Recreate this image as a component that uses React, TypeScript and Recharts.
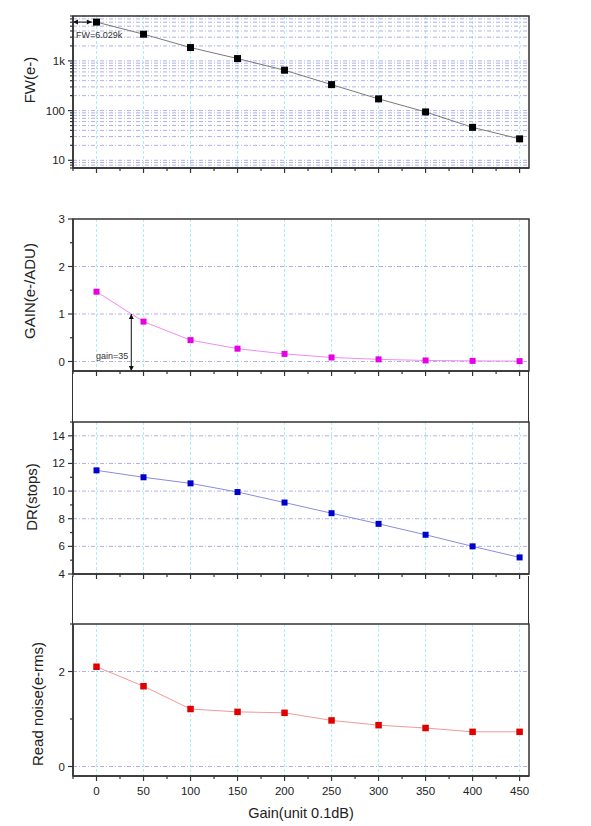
import React from 'react';
import {
  LineChart,
  Line,
  XAxis,
  YAxis,
  CartesianGrid,
  ReferenceLine,
  ReferenceArea,
} from 'recharts';

// ---------- data ----------
const gainSteps = [0, 50, 100, 150, 200, 250, 300, 350, 400, 450];
const fullWell = [6029, 3443, 1854, 1113, 650, 333, 172, 94, 46, 27];
const adcGain = [1.47, 0.84, 0.45, 0.27, 0.16, 0.085, 0.045, 0.022, 0.013, 0.008];
const dynamicRange = [11.5, 11.0, 10.56, 9.93, 9.17, 8.4, 7.63, 6.84, 6.0, 5.2];
const readNoise = [2.1, 1.69, 1.21, 1.15, 1.13, 0.97, 0.87, 0.81, 0.73, 0.73];

const xTicks = [-25, 0, 25, 50, 75, 100, 125, 150, 175, 200, 225, 250, 275, 300, 325, 350, 375, 400, 425, 450];
const xMajor = [0, 50, 100, 150, 200, 250, 300, 350, 400, 450];

const fwTicks = [7, 8, 9, 10, 20, 30, 40, 50, 60, 70, 80, 90, 100, 200, 300, 400, 500, 600, 700, 800, 900, 1000, 2000, 3000, 4000, 5000, 6000, 7000, 8000];
const fwMajor = [10, 100, 1000];
const fwTickLabels: Record<number, string> = { 10: '10', 100: '100', 1000: '1k' };

const gainTicks = [0, 0.5, 1, 1.5, 2, 2.5, 3];
const gainMajor = [0, 1, 2, 3];
const gainGrid = [0, 1, 2];

const drTicks = [4, 5, 6, 7, 8, 9, 10, 11, 12, 13, 14, 15];
const drMajor = [4, 6, 8, 10, 12, 14];
const drGrid = [6, 8, 10, 12, 14];

const rnTicks = [0, 1, 2, 3];
const rnMajor = [0, 2];
const rnGrid = [0, 2];

const fwAnnotationLabel = 'FW=6.029k';
const gainAnnotationLabel = 'gain=35';
const gainAnnotationX = 37;

const rows = gainSteps.map((g, i) => ({
  g,
  fw: fullWell[i],
  gain: adcGain[i],
  dr: dynamicRange[i],
  rn: readNoise[i],
}));

// ---------- styles ----------
const FONT = '"Liberation Sans", Arial, Helvetica, sans-serif';
const AXIS = '#333';
const VGRID = '#b0ecf4';
const HGRID = '#b0b0ea';

const XTick = (props: any) => {
  const { x, y, payload, showLabels } = props;
  const v = payload.value;
  const major = xMajor.includes(v);
  return (
    <g>
      <line x1={x} y1={y} x2={x} y2={y + (major ? 5 : 3)} stroke={AXIS} strokeWidth={1.2} />
      {showLabels && major && (
        <text x={x} y={y + 19} textAnchor="middle" fontSize={11.5} fontFamily={FONT} fill="#222">
          {v}
        </text>
      )}
    </g>
  );
};

const YTick = (props: any) => {
  const { x, y, payload, major, fmt } = props;
  const v = payload.value;
  const isMajor = major.includes(v);
  return (
    <g>
      <line x1={x - (isMajor ? 5 : 3)} y1={y} x2={x} y2={y} stroke={AXIS} strokeWidth={1.2} />
      {isMajor && (
        <text x={x - 8} y={y + 4} textAnchor="end" fontSize={11.5} fontFamily={FONT} fill="#222">
          {fmt ? fmt(v) : v}
        </text>
      )}
    </g>
  );
};

const headPts = (x: number, y: number, dir: string, len = 5, half = 2.5) => {
  if (dir === 'l') return `${x},${y} ${x + len},${y - half} ${x + len},${y + half}`;
  if (dir === 'r') return `${x},${y} ${x - len},${y - half} ${x - len},${y + half}`;
  if (dir === 'u') return `${x},${y} ${x - half},${y + len} ${x + half},${y + len}`;
  return `${x},${y} ${x - half},${y - len} ${x + half},${y - len}`;
};

const FwArrow = (p: any) => {
  const { x1, y1, x2, y2 } = p;
  return (
    <g>
      <line x1={x1} y1={y1} x2={x2} y2={y2} stroke="#111" strokeWidth={1} />
      <polygon points={headPts(x1, y1, 'l')} fill="#111" />
      <polygon points={headPts(x2, y2, 'r')} fill="#111" />
      <text x={x1 + 3} y={y1 + 16} fontSize={9} fontFamily={FONT} fill="#333">
        {fwAnnotationLabel}
      </text>
    </g>
  );
};

const GainArrow = (p: any) => {
  const { x1, y1, x2, y2 } = p;
  const top = Math.min(y1, y2);
  const bot = Math.max(y1, y2);
  return (
    <g>
      <line x1={x1} y1={top} x2={x2} y2={bot} stroke="#111" strokeWidth={1} />
      <polygon points={headPts(x1, top, 'u')} fill="#111" />
      <polygon points={headPts(x1, bot, 'd')} fill="#111" />
      <text x={x1 - 3} y={bot - 12.5} textAnchor="end" fontSize={9} fontFamily={FONT} fill="#333">
        {gainAnnotationLabel}
      </text>
    </g>
  );
};

const squareDot = (color: string, size: number) => (props: any) => {
  const { cx, cy, index } = props;
  if (cx == null || cy == null) return <g key={`n-${index}`} />;
  return <rect key={`d-${index}`} x={cx - size / 2} y={cy - size / 2} width={size} height={size} fill={color} />;
};

type PanelProps = {
  top: number;
  xAxisHeight: number;
  showXLabels: boolean;
  dataKey: string;
  markerColor: string;
  lineColor: string;
  markerSize: number;
  yScale: 'linear' | 'log';
  yDomain: [number, number];
  yTicks: number[];
  yMajor: number[];
  yFmt?: (v: number) => string;
  yGrid: number[];
  yTitle: string;
  yTitleX: number;
  yTitleDy: number;
  children?: React.ReactNode;
};

const PLOT_H = 152;
const MARGIN_TOP = 10;

const Panel = (p: PanelProps) => {
  const h = MARGIN_TOP + PLOT_H + p.xAxisHeight;
  return (
    <div style={{ position: 'absolute', left: 0, top: p.top, width: 591, height: h }}>
      <LineChart width={591} height={h} data={rows} margin={{ top: MARGIN_TOP, right: 62, bottom: 0, left: 13 }}>
        <CartesianGrid horizontal={false} vertical verticalValues={xMajor} stroke={VGRID} strokeDasharray="3 2" />
        <CartesianGrid vertical={false} horizontal horizontalValues={p.yGrid} stroke={HGRID} strokeDasharray="4 2 1 2" />
        <XAxis
          dataKey="g"
          type="number"
          domain={[-25, 460]}
          ticks={xTicks}
          interval={0}
          allowDataOverflow
          tickLine={false}
          tickSize={0}
          tickMargin={0}
          height={p.xAxisHeight}
          axisLine={{ stroke: AXIS, strokeWidth: 1.5 }}
          tick={(tp: any) => <XTick {...tp} showLabels={p.showXLabels} />}
          label={
            p.showXLabels
              ? (lp: any) => {
                  const vb = lp.viewBox || {};
                  return (
                    <text
                      x={vb.x + vb.width / 2}
                      y={vb.y + 42}
                      textAnchor="middle"
                      fontSize={14.5}
                      fontFamily={FONT}
                      fill="#222"
                    >
                      Gain(unit 0.1dB)
                    </text>
                  );
                }
              : undefined
          }
        />
        <YAxis
          type="number"
          scale={p.yScale}
          domain={p.yDomain}
          ticks={p.yTicks}
          interval={0}
          allowDataOverflow
          width={60}
          tickLine={false}
          tickSize={0}
          tickMargin={0}
          axisLine={{ stroke: AXIS, strokeWidth: 1.5 }}
          tick={(tp: any) => <YTick {...tp} major={p.yMajor} fmt={p.yFmt} />}
          label={(lp: any) => {
            const vb = lp.viewBox || {};
            const cx = p.yTitleX;
            const cy = vb.y + vb.height / 2 + p.yTitleDy;
            return (
              <text
                x={cx}
                y={cy}
                transform={`rotate(-90, ${cx}, ${cy})`}
                textAnchor="middle"
                dominantBaseline="central"
                fontSize={15}
                fontFamily={FONT}
                fill="#222"
              >
                {p.yTitle}
              </text>
            );
          }}
        />
        <ReferenceArea
          x1={-25}
          x2={460}
          y1={p.yDomain[0]}
          y2={p.yDomain[1]}
          fill="none"
          fillOpacity={0}
          stroke={AXIS}
          strokeWidth={1.5}
          ifOverflow="visible"
        />
        <Line
          type="linear"
          dataKey={p.dataKey}
          stroke={p.lineColor}
          strokeWidth={1}
          dot={squareDot(p.markerColor, p.markerSize)}
          activeDot={false}
          isAnimationActive={false}
        />
        {p.children}
      </LineChart>
    </div>
  );
};

const gapBox = (top: number, height: number) => (
  <div
    style={{
      position: 'absolute',
      left: 72,
      top,
      width: 457,
      height,
      borderLeft: `1.5px solid ${AXIS}`,
      borderRight: `1.5px solid ${AXIS}`,
      boxSizing: 'border-box',
    }}
  />
);

export default function App() {
  return (
    <div style={{ position: 'absolute', left: 0, top: 0, width: 591, height: 826, background: '#fff', overflow: 'hidden' }}>
      <Panel
        top={6}
        xAxisHeight={8}
        showXLabels={false}
        dataKey="fw"
        markerColor="#000"
        lineColor="#7a7a7a"
        markerSize={7}
        yScale="log"
        yDomain={[7, 8000]}
        yTicks={fwTicks}
        yMajor={fwMajor}
        yFmt={(v) => fwTickLabels[v] ?? String(v)}
        yGrid={fwTicks}
        yTitle="FW(e-)"
        yTitleX={29.5}
        yTitleDy={-12}
      >
        <ReferenceLine
          segment={[
            { x: -25, y: fullWell[0] },
            { x: -5, y: fullWell[0] },
          ]}
          ifOverflow="visible"
          shape={FwArrow}
        />
      </Panel>

      <Panel
        top={209}
        xAxisHeight={8}
        showXLabels={false}
        dataKey="gain"
        markerColor="#e600e6"
        lineColor="#f08cf0"
        markerSize={6}
        yScale="linear"
        yDomain={[-0.2, 3]}
        yTicks={gainTicks}
        yMajor={gainMajor}
        yGrid={gainGrid}
        yTitle="GAIN(e-/ADU)"
        yTitleX={29.5}
        yTitleDy={-4}
      >
        <ReferenceLine
          segment={[
            { x: gainAnnotationX, y: 1 },
            { x: gainAnnotationX, y: -0.2 },
          ]}
          ifOverflow="visible"
          shape={GainArrow}
        />
      </Panel>
      {gapBox(371, 51)}

      <Panel
        top={412}
        xAxisHeight={8}
        showXLabels={false}
        dataKey="dr"
        markerColor="#0000cc"
        lineColor="#8c8cdc"
        markerSize={6}
        yScale="linear"
        yDomain={[4, 15]}
        yTicks={drTicks}
        yMajor={drMajor}
        yGrid={drGrid}
        yTitle="DR(stops)"
        yTitleX={31.5}
        yTitleDy={-1}
      />
      {gapBox(576, 48)}

      <Panel
        top={614}
        xAxisHeight={48}
        showXLabels
        dataKey="rn"
        markerColor="#e00000"
        lineColor="#f09a9a"
        markerSize={6.5}
        yScale="linear"
        yDomain={[-0.2, 3]}
        yTicks={rnTicks}
        yMajor={rnMajor}
        yGrid={rnGrid}
        yTitle="Read noise(e-rms)"
        yTitleX={37.5}
        yTitleDy={4}
      />
    </div>
  );
}
